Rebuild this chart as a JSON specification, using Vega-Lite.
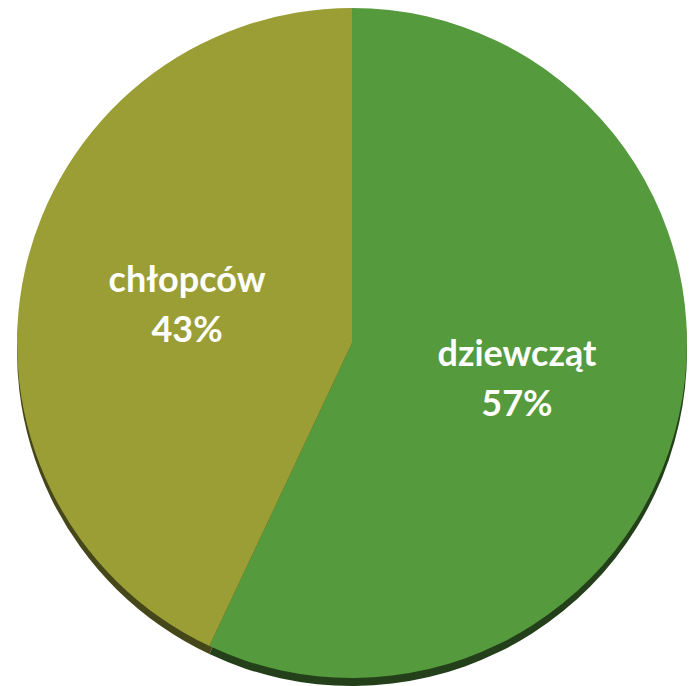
{
  "$schema": "https://vega.github.io/schema/vega-lite/v6.json",
  "width": 695,
  "height": 686,
  "autosize": {"type": "fit", "contains": "padding"},
  "padding": {"left": 9, "right": 0, "top": 0, "bottom": 0},
  "background": "white",
  "view": {"stroke": null},
  "data": {
    "values": [
      {"grupa": "dziewcząt", "procent": 57, "etykieta": "57%", "kolejnosc": 1},
      {"grupa": "chłopców", "procent": 43, "etykieta": "43%", "kolejnosc": 2}
    ]
  },
  "encoding": {
    "theta": {"field": "procent", "type": "quantitative", "stack": true},
    "order": {"field": "kolejnosc", "type": "quantitative"}
  },
  "resolve": {"scale": {"color": "independent"}},
  "layer": [
    {
      "mark": {"type": "arc", "radius": 335, "yOffset": 8},
      "encoding": {
        "color": {
          "field": "grupa", "type": "nominal",
          "scale": {"domain": ["dziewcząt", "chłopców"], "range": ["#23401a", "#45461a"]},
          "legend": null
        }
      }
    },
    {
      "mark": {"type": "arc", "radius": 335},
      "encoding": {
        "color": {
          "field": "grupa", "type": "nominal",
          "scale": {"domain": ["dziewcząt", "chłopców"], "range": ["#559a3c", "#9a9e35"]},
          "legend": null
        }
      }
    },
    {
      "mark": {"type": "text", "radius": 169, "dy": -25, "font": "Lato", "fontWeight": "bold", "fontSize": 36, "color": "white"},
      "encoding": {"text": {"field": "grupa"}}
    },
    {
      "mark": {"type": "text", "radius": 169, "dy": 25, "font": "Lato", "fontWeight": "bold", "fontSize": 36, "color": "white"},
      "encoding": {"text": {"field": "etykieta"}}
    }
  ]
}
